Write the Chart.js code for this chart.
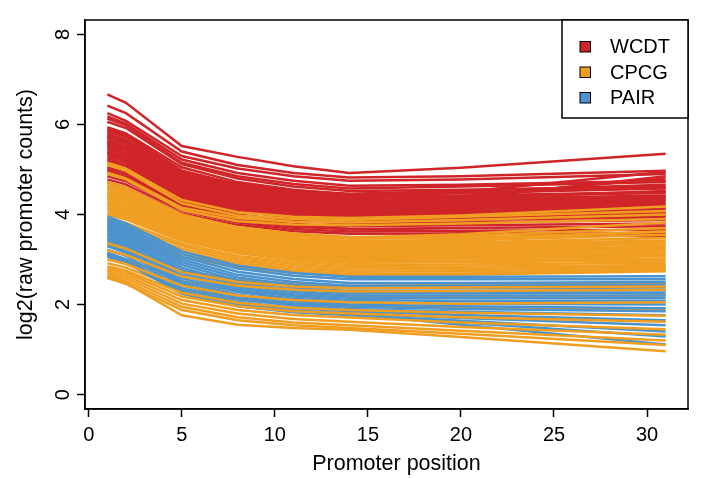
<!DOCTYPE html>
<html>
<head>
<meta charset="utf-8">
<script src="https://cdn.jsdelivr.net/npm/chart.js@4/dist/chart.umd.min.js"></script>
<style>
  html, body { margin: 0; padding: 0; background: #ffffff; }
  #wrap { width: 701px; height: 478px; position: relative; }
</style>
</head>
<body>
<div id="wrap"><canvas id="c" width="701" height="478"></canvas></div>
<script>
// Promoter positions at which each profile is sampled
const positions = [1, 2, 5, 8, 11, 14, 20, 31];

// log2(raw promoter counts), one row per sample
const wcdt = [
  [6.67, 6.48, 5.52, 5.28, 5.07, 4.92, 5.04, 5.35],
  [6.42, 6.25, 5.40, 5.10, 4.92, 4.82, 4.85, 4.97],
  [6.25, 6.08, 5.30, 5.02, 4.85, 4.75, 4.78, 4.90],
  [6.18, 6.02, 5.22, 4.92, 4.75, 4.64, 4.66, 4.75],
  [6.13, 5.98, 5.15, 4.85, 4.68, 4.58, 4.62, 4.72],
  [6.06, 5.92, 5.12, 4.80, 4.62, 4.52, 4.55, 4.62],
  [5.94, 5.80, 5.05, 4.72, 4.55, 4.45, 4.48, 4.58],
  [5.90, 5.76, 4.98, 4.66, 4.50, 4.40, 4.42, 4.50],
  [5.85, 5.72, 4.92, 4.62, 4.45, 4.37, 4.40, 4.48],
  [5.80, 5.66, 4.88, 4.58, 4.41, 4.33, 4.35, 4.42],
  [5.75, 5.62, 4.84, 4.54, 4.38, 4.29, 4.33, 4.40],
  [5.70, 5.57, 4.80, 4.50, 4.34, 4.26, 4.30, 4.36],
  [5.65, 5.52, 4.76, 4.46, 4.30, 4.22, 4.26, 4.33],
  [5.60, 5.47, 4.72, 4.42, 4.27, 4.19, 4.23, 4.30],
  [5.55, 5.42, 4.68, 4.38, 4.23, 4.15, 4.19, 4.26],
  [5.50, 5.37, 4.64, 4.34, 4.19, 4.12, 4.15, 4.22],
  [5.45, 5.32, 4.60, 4.30, 4.16, 4.08, 4.12, 4.19],
  [5.40, 5.27, 4.56, 4.27, 4.12, 4.05, 4.08, 4.15],
  [5.35, 5.22, 4.52, 4.23, 4.08, 4.01, 4.04, 4.10],
  [5.30, 5.18, 4.48, 4.19, 4.05, 3.98, 4.00, 4.06],
  [5.25, 5.13, 4.44, 4.15, 4.01, 3.94, 3.96, 4.02],
  [5.20, 5.08, 4.40, 4.11, 3.97, 3.90, 3.92, 3.98],
  [5.15, 5.03, 4.36, 4.07, 3.93, 3.86, 3.88, 3.94],
  [5.05, 4.93, 4.28, 4.00, 3.86, 3.80, 3.82, 3.88],
  [4.95, 4.83, 4.20, 3.93, 3.79, 3.74, 3.76, 3.80],
  [4.85, 4.74, 4.13, 3.87, 3.73, 3.68, 3.70, 3.74],
  [4.78, 4.67, 4.08, 3.82, 3.68, 3.62, 3.64, 3.66],
  [4.72, 4.60, 4.02, 3.77, 3.63, 3.57, 3.58, 3.58],
  [5.50, 5.36, 4.62, 4.35, 4.22, 4.18, 4.35, 4.85],
  [5.62, 5.48, 4.75, 4.45, 4.30, 4.25, 4.40, 4.80],
  [5.72, 5.58, 4.82, 4.52, 4.38, 4.33, 4.50, 4.95],
  [5.38, 5.25, 4.50, 4.20, 4.08, 4.02, 4.10, 4.40],
  [5.00, 4.88, 4.22, 3.92, 3.76, 3.68, 3.62, 3.50],
  [5.88, 5.74, 4.95, 4.68, 4.52, 4.46, 4.52, 4.66],
  [5.78, 5.64, 4.86, 4.60, 4.46, 4.42, 4.48, 4.60],
  [5.58, 5.45, 4.70, 4.44, 4.32, 4.28, 4.36, 4.52]
];

const cpcg = [
  [5.15, 5.02, 4.32, 4.05, 3.95, 3.92, 3.98, 4.18],
  [5.10, 4.97, 4.25, 3.98, 3.90, 3.88, 3.95, 4.08],
  [4.93, 4.80, 4.15, 3.92, 3.84, 3.82, 3.88, 4.00],
  [4.90, 4.78, 4.10, 3.85, 3.78, 3.76, 3.80, 3.90],
  [4.72, 4.60, 4.00, 3.72, 3.58, 3.50, 3.52, 3.70],
  [4.66, 4.54, 3.95, 3.67, 3.53, 3.46, 3.48, 3.62],
  [4.60, 4.48, 3.90, 3.62, 3.48, 3.41, 3.42, 3.55],
  [4.55, 4.43, 3.86, 3.58, 3.44, 3.37, 3.38, 3.48],
  [4.50, 4.38, 3.82, 3.54, 3.40, 3.33, 3.34, 3.42],
  [4.45, 4.33, 3.78, 3.50, 3.36, 3.29, 3.30, 3.38],
  [4.40, 4.28, 3.73, 3.46, 3.32, 3.25, 3.26, 3.33],
  [4.35, 4.23, 3.69, 3.42, 3.28, 3.21, 3.22, 3.28],
  [4.30, 4.19, 3.65, 3.38, 3.24, 3.17, 3.18, 3.24],
  [4.25, 4.14, 3.61, 3.34, 3.20, 3.13, 3.14, 3.20],
  [4.20, 4.09, 3.57, 3.30, 3.16, 3.09, 3.10, 3.15],
  [4.15, 4.04, 3.53, 3.26, 3.12, 3.05, 3.06, 3.11],
  [4.10, 3.99, 3.49, 3.22, 3.08, 3.01, 3.02, 3.07],
  [4.05, 3.94, 3.45, 3.18, 3.04, 2.97, 2.98, 3.02],
  [4.00, 3.89, 3.41, 3.14, 3.00, 2.93, 2.94, 2.98],
  [3.92, 3.81, 3.35, 3.08, 2.95, 2.88, 2.89, 2.93],
  [3.85, 3.74, 3.30, 3.03, 2.90, 2.83, 2.84, 2.88],
  [3.75, 3.65, 3.24, 2.98, 2.85, 2.78, 2.79, 2.84],
  [3.65, 3.55, 3.18, 2.93, 2.80, 2.73, 2.74, 2.80],
  [3.55, 3.46, 3.12, 2.88, 2.75, 2.68, 2.69, 2.77],
  [3.45, 3.36, 3.05, 2.83, 2.70, 2.64, 2.66, 2.74],
  [4.62, 4.50, 3.92, 3.66, 3.54, 3.48, 3.56, 3.82],
  [4.48, 4.36, 3.80, 3.55, 3.44, 3.39, 3.44, 3.62],
  [4.22, 4.11, 3.59, 3.34, 3.23, 3.19, 3.24, 3.40]
];

// Low-count CPCG samples lying among the PAIR profiles (drawn beneath them)
const cpcgMid = [
  [3.30, 3.20, 2.75, 2.55, 2.46, 2.42, 2.44, 2.48],
  [3.10, 3.00, 2.52, 2.30, 2.21, 2.17, 2.16, 2.20],
  [2.92, 2.82, 2.34, 2.12, 2.02, 1.97, 1.92, 1.90]
];

// CPCG samples with the lowest counts (drawn over the PAIR profiles)
const cpcgLow = [
  [3.36, 3.24, 2.72, 2.50, 2.40, 2.36, 2.38, 2.40],
  [3.20, 3.10, 2.62, 2.42, 2.33, 2.29, 2.30, 2.33],
  [3.00, 2.90, 2.42, 2.20, 2.10, 2.05, 2.02, 2.05],
  [2.85, 2.75, 2.26, 2.04, 1.93, 1.88, 1.82, 1.75],
  [2.80, 2.70, 2.18, 1.96, 1.85, 1.80, 1.72, 1.62],
  [2.75, 2.64, 2.10, 1.88, 1.77, 1.71, 1.60, 1.45],
  [2.70, 2.58, 2.02, 1.80, 1.68, 1.62, 1.50, 1.33],
  [2.65, 2.52, 1.95, 1.72, 1.60, 1.54, 1.42, 1.20],
  [2.59, 2.46, 1.88, 1.65, 1.54, 1.48, 1.35, 1.10],
  [2.62, 2.48, 1.76, 1.55, 1.48, 1.44, 1.28, 0.96]
];

const pair = [
  [3.96, 3.80, 3.18, 2.86, 2.70, 2.62, 2.62, 2.63],
  [3.90, 3.74, 3.12, 2.80, 2.64, 2.56, 2.56, 2.56],
  [3.85, 3.69, 3.06, 2.73, 2.57, 2.48, 2.48, 2.50],
  [3.80, 3.64, 3.00, 2.66, 2.50, 2.42, 2.42, 2.44],
  [3.75, 3.59, 2.94, 2.60, 2.44, 2.36, 2.36, 2.38],
  [3.70, 3.54, 2.88, 2.54, 2.38, 2.30, 2.30, 2.32],
  [3.65, 3.49, 2.82, 2.48, 2.33, 2.25, 2.25, 2.26],
  [3.60, 3.44, 2.76, 2.43, 2.28, 2.20, 2.20, 2.20],
  [3.55, 3.40, 2.70, 2.38, 2.23, 2.15, 2.14, 2.14],
  [3.50, 3.35, 2.64, 2.33, 2.18, 2.10, 2.08, 2.08],
  [3.45, 3.30, 2.58, 2.28, 2.13, 2.05, 2.02, 2.00],
  [3.40, 3.25, 2.52, 2.22, 2.08, 2.00, 1.96, 1.92],
  [3.35, 3.20, 2.47, 2.17, 2.03, 1.95, 1.90, 1.85],
  [3.30, 3.15, 2.42, 2.12, 1.98, 1.90, 1.84, 1.76],
  [3.22, 3.08, 2.36, 2.06, 1.92, 1.85, 1.77, 1.65],
  [3.15, 3.01, 2.30, 2.01, 1.87, 1.80, 1.70, 1.54],
  [3.06, 2.93, 2.24, 1.96, 1.83, 1.76, 1.64, 1.40],
  [3.10, 2.96, 2.26, 1.97, 1.85, 1.78, 1.60, 1.29],
  [3.12, 2.98, 2.27, 1.98, 1.86, 1.79, 1.55, 1.11]
];

const xTicks = [0, 5, 10, 15, 20, 25, 30];
const yTicks = [0, 2, 4, 6, 8];

const cohorts = ['WCDT', 'CPCG', 'PAIR'];
const cohortColors = ['#CF2529', '#F09E22', '#4B93CE'];
const xTitle = 'Promoter position';

const FONT = 'Liberation Sans, Arial, Helvetica, sans-serif';

// One dataset per sample profile; lower "order" is drawn on top
function profiles(rows, color, order) {
  return rows.map(r => ({
    data: r.map((v, i) => ({ x: positions[i], y: v })),
    borderColor: color,
    borderWidth: 2.5,
    pointRadius: 0,
    tension: 0,
    fill: false,
    order: order
  }));
}

const datasets = [
  ...profiles(wcdt, cohortColors[0], 4),
  ...profiles(cpcg, cohortColors[1], 3),
  ...profiles(cpcgMid, cohortColors[1], 2),
  ...profiles(pair, cohortColors[2], 1),
  ...profiles(cpcgLow, cohortColors[1], 0)
];

// Frame around the plot region, the x-axis title and the boxed legend
const frameAndLegend = {
  id: 'frameAndLegend',
  afterDatasetsDraw(chart) {
    const { ctx, chartArea: a } = chart;
    ctx.save();
    ctx.strokeStyle = '#000';
    ctx.lineWidth = 1.5;
    ctx.strokeRect(a.left, a.top, a.right - a.left, a.bottom - a.top);

    const boxW = 126, boxH = 98;
    const bx = a.right - boxW, by = a.top;
    ctx.fillStyle = '#fff';
    ctx.fillRect(bx, by, boxW, boxH);
    ctx.strokeRect(bx, by, boxW, boxH);

    ctx.font = '20px ' + FONT;
    ctx.textBaseline = 'middle';
    ctx.textAlign = 'left';
    cohorts.forEach((name, i) => {
      const cy = by + 26.5 + i * 25.5;
      ctx.fillStyle = cohortColors[i];
      ctx.fillRect(bx + 18, cy - 5, 10.5, 10.5);
      ctx.lineWidth = 1;
      ctx.strokeStyle = '#000';
      ctx.strokeRect(bx + 18, cy - 5, 10.5, 10.5);
      ctx.fillStyle = '#000';
      ctx.fillText(name, bx + 48, cy + 1);
    });

    ctx.font = '21.5px ' + FONT;
    ctx.textAlign = 'center';
    ctx.fillStyle = '#000';
    ctx.fillText(xTitle, a.left + (a.right - a.left) / 2 + 10, 464);
    ctx.restore();
  }
};

new Chart(document.getElementById('c'), {
  type: 'line',
  data: { datasets },
  plugins: [frameAndLegend],
  options: {
    responsive: false,
    animation: false,
    devicePixelRatio: 1,
    layout: { padding: { top: 11, right: 13, left: 0, bottom: 0 } },
    plugins: { legend: { display: false }, tooltip: { enabled: false } },
    scales: {
      x: {
        type: 'linear',
        min: -0.2,
        max: 32.2,
        afterBuildTicks: s => { s.ticks = xTicks.map(v => ({ value: v })); },
        afterFit: s => { s.height = 69; },
        grid: { drawOnChartArea: false, drawTicks: true, tickLength: 8, tickColor: '#000', tickWidth: 1.5 },
        border: { display: true, color: '#000', width: 1.5 },
        ticks: { color: '#000', font: { family: FONT, size: 20 }, padding: 6, maxRotation: 0, minRotation: 0 },
        title: { display: false }
      },
      y: {
        type: 'linear',
        min: -0.32,
        max: 8.32,
        afterBuildTicks: s => { s.ticks = yTicks.map(v => ({ value: v })); },
        afterFit: s => { s.width = 85; },
        grid: { drawOnChartArea: false, drawTicks: true, tickLength: 8, tickColor: '#000', tickWidth: 1.5 },
        border: { display: true, color: '#000', width: 1.5 },
        ticks: { color: '#000', font: { family: FONT, size: 20 }, padding: 8, minRotation: 90, maxRotation: 90, crossAlign: 'center' },
        title: { display: true, text: 'log2(raw promoter counts)', color: '#000', font: { family: FONT, size: 21.5 }, padding: { top: 13, bottom: 0 } }
      }
    }
  }
});
</script>
</body>
</html>
